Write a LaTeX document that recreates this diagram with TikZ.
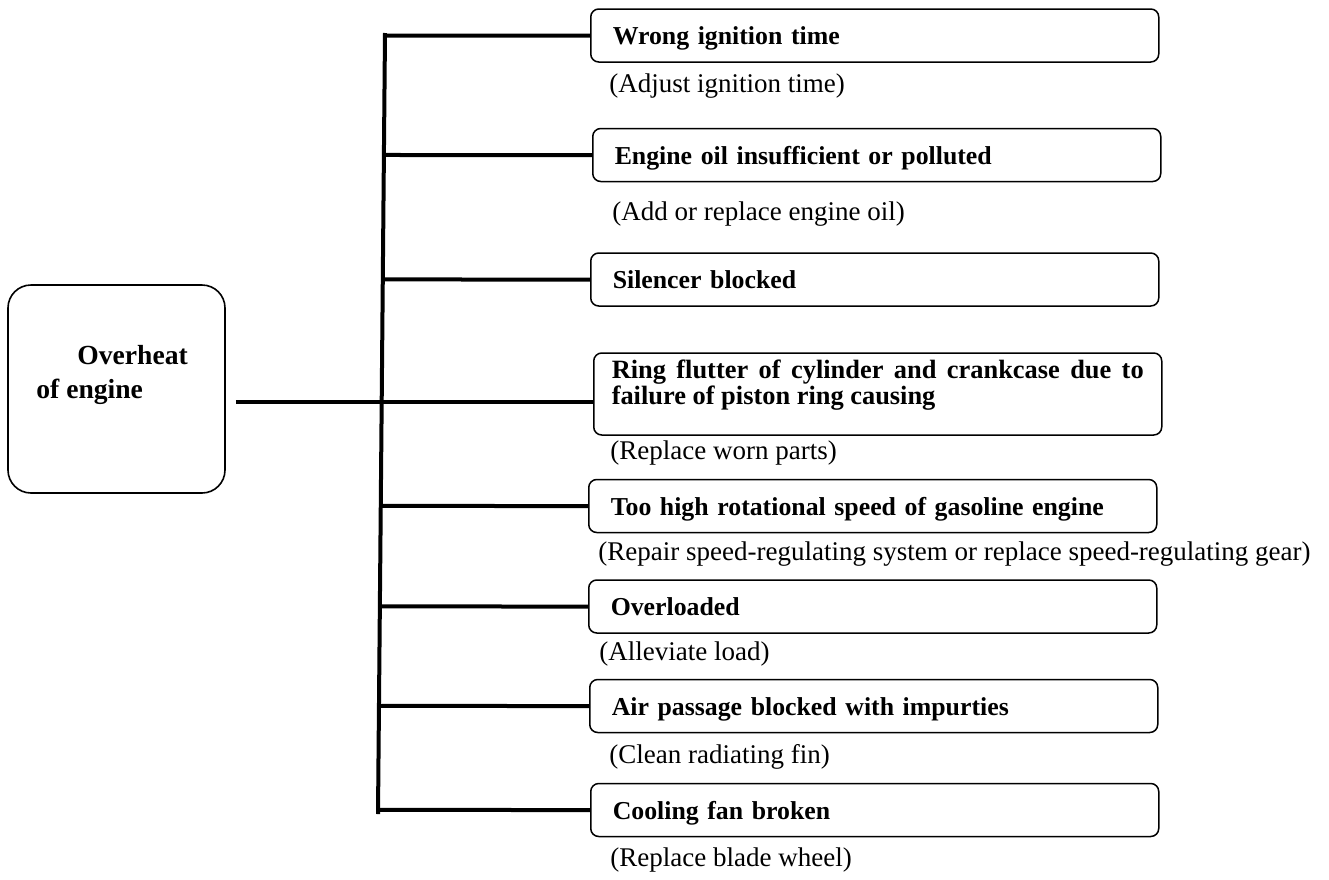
\documentclass[tikz,border=0pt]{standalone}
\usepackage{fontspec}
\setmainfont{Liberation Serif}

\begin{document}
\begin{tikzpicture}[x=0.5pt,y=-0.5pt,
    main_box/.style={draw=black,line width=0.8pt,rounded corners=11.5pt,minimum width=108.5pt,minimum height=104pt},
    main_text/.style={font=\bfseries\fontsize{13.8}{17}\selectfont,align=left,inner sep=0pt,anchor=west},
    cause_box/.style={draw=black,line width=0.75pt,rounded corners=4pt,anchor=west,minimum width=284pt,minimum height=26.5pt,text width=262pt,inner xsep=11pt,text height=12pt,text depth=3pt,align=left,font=\bfseries\fontsize{12.9}{13}\selectfont},
    ring_box/.style={cause_box,text width=266pt,inner xsep=9pt,inner ysep=2pt,align=justify,text height=9.5pt,text depth=25pt,minimum height=41pt,font=\bfseries\fontsize{13.2}{13}\selectfont},
    remedy_text/.style={anchor=west,inner sep=0pt,font=\fontsize{13.5}{14}\selectfont},
    trunk_line/.style={black,line width=2pt}]
  \useasboundingbox (0,0) rectangle (1329,879);
\node[main_box] (overheat) at (116.5,389) {};
\node[main_text] (overheat_text) at (36,375) {\hspace*{20.5pt}Overheat\\of engine};
\node[cause_box] (c1) at (590,35.5) {Wrong ignition time};
\node[cause_box] (c2) at (592,155) {Engine oil insufficient or polluted};
\node[cause_box] (c3) at (590,279.5) {Silencer blocked};
\node[ring_box] (c4) at (593,394) {Ring flutter of cylinder and crankcase due to \mbox{failure} of piston ring causing};
\node[cause_box] (c5) at (588,506) {Too high rotational speed of gasoline engine};
\node[cause_box] (c6) at (588,606.5) {Overloaded};
\node[cause_box] (c7) at (589,706) {Air passage blocked with impurties};
\node[cause_box] (c8) at (590,810) {Cooling fan broken};
\node[remedy_text] (r1) at (609,86) {(Adjust ignition time)};
\node[remedy_text] (r2) at (612,214) {(Add or replace engine oil)};
\node[remedy_text] (r4) at (610,453) {(Replace worn parts)};
\node[remedy_text] (r5) at (598,554) {(Repair speed-regulating system or replace speed-regulating gear)};
\node[remedy_text] (r6) at (599,654) {(Alleviate load)};
\node[remedy_text] (r7) at (609,757) {(Clean radiating fin)};
\node[remedy_text] (r8) at (610,860) {(Replace blade wheel)};
\coordinate (trunk_top) at (385,33);
\coordinate (trunk_bottom) at (378,814);
\draw[trunk_line] (trunk_top) -- (trunk_bottom);
\coordinate (main_start) at ([shift={(10,13)}]overheat.east);
\draw[trunk_line] (main_start) -- (main_start -| c4.west);
\draw[trunk_line] (intersection of trunk_top--trunk_bottom and c1.west--c1.east) -- (c1.west);
\draw[trunk_line] (intersection of trunk_top--trunk_bottom and c2.west--c2.east) -- (c2.west);
\draw[trunk_line] (intersection of trunk_top--trunk_bottom and c3.west--c3.east) -- (c3.west);
\draw[trunk_line] (intersection of trunk_top--trunk_bottom and c5.west--c5.east) -- (c5.west);
\draw[trunk_line] (intersection of trunk_top--trunk_bottom and c6.west--c6.east) -- (c6.west);
\draw[trunk_line] (intersection of trunk_top--trunk_bottom and c7.west--c7.east) -- (c7.west);
\draw[trunk_line] (intersection of trunk_top--trunk_bottom and c8.west--c8.east) -- (c8.west);
\end{tikzpicture}
\end{document}
